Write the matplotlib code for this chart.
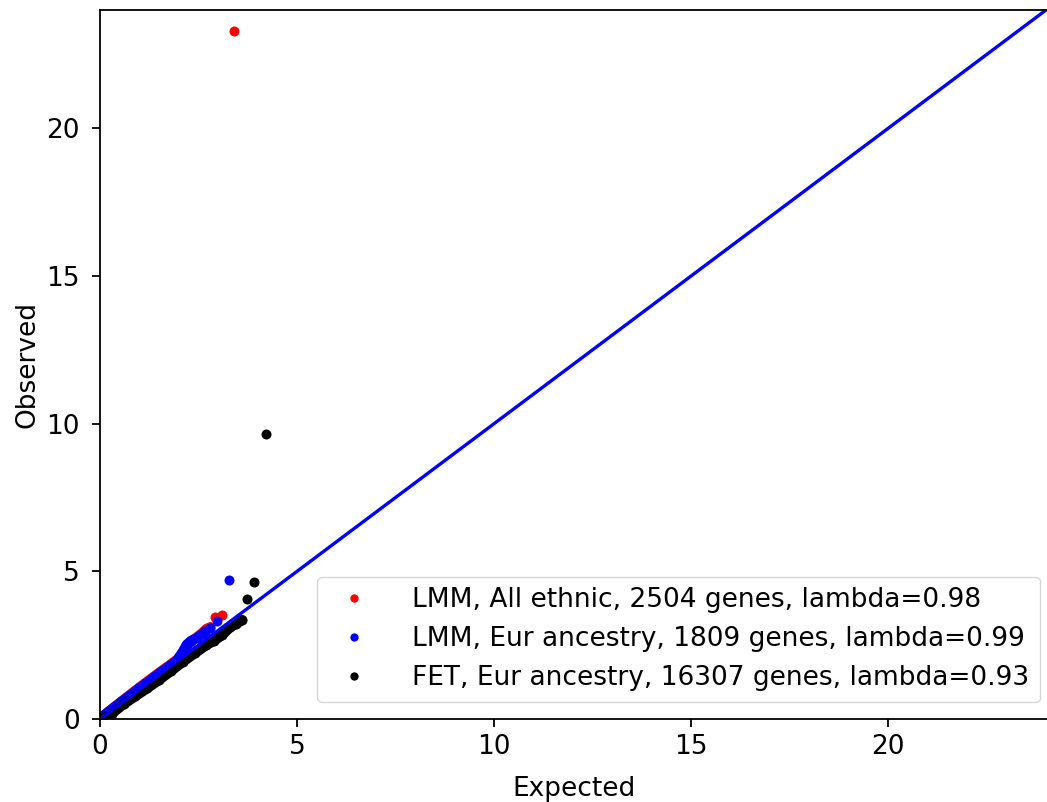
from matplotlib import pyplot as plt
from matplotlib.lines import Line2D
import numpy as np

# QQ plot of -log10 p-values, expected vs observed

# LMM, all ethnic (2504 genes)
lmm_all_exp = [0.0, 0.25, 0.5, 0.75, 1.0, 1.25, 1.5, 1.75, 2.0, 2.15, 2.3, 2.45, 2.6, 2.70, 2.80, 2.92, 3.10, 3.40]
lmm_all_obs = [0.02, 0.29, 0.55, 0.81, 1.07, 1.32, 1.57, 1.81, 2.06, 2.35, 2.62, 2.76, 2.92, 3.05, 3.11, 3.45, 3.52, 23.3]

# LMM, Eur ancestry (1809 genes)
lmm_eur_exp = [0.0, 0.25, 0.5, 0.75, 1.0, 1.25, 1.5, 1.75, 1.95, 2.1, 2.2, 2.3, 2.45, 2.6, 2.66, 2.78, 2.96, 3.26]
lmm_eur_obs = [0.02, 0.28, 0.54, 0.79, 1.04, 1.29, 1.54, 1.78, 1.98, 2.28, 2.52, 2.64, 2.74, 2.88, 2.96, 3.08, 3.32, 4.70]

# FET, Eur ancestry (16307 genes)
fet_eur_exp = [0.05, 0.3, 0.6, 0.9, 1.2, 1.5, 1.8, 2.1, 2.4, 2.7, 2.9, 3.1, 3.3, 3.45, 3.61, 3.74, 3.91, 4.21]
fet_eur_obs = [0.0, 0.18, 0.50, 0.77, 1.04, 1.32, 1.62, 1.93, 2.22, 2.50, 2.65, 2.84, 3.10, 3.22, 3.35, 4.06, 4.64, 9.64]

labels = ['LMM, All ethnic, 2504 genes, lambda=0.98',
          'LMM, Eur ancestry, 1809 genes, lambda=0.99',
          'FET, Eur ancestry, 16307 genes, lambda=0.93']
colors = ['red', 'blue', 'black']

plt.rcParams['font.size'] = 19
plt.rcParams['axes.linewidth'] = 1.3
plt.rcParams['xtick.major.size'] = 5.5
plt.rcParams['ytick.major.size'] = 5.5
plt.rcParams['xtick.major.width'] = 1.3
plt.rcParams['ytick.major.width'] = 1.3
plt.rcParams['xtick.major.pad'] = 5.5
plt.rcParams['ytick.major.pad'] = 9

fig = plt.figure(figsize=(10.47, 8.02), dpi=100)
ax = fig.add_axes([100/1047, 83/802, 948/1047, 709/802])

series = [(lmm_all_exp, lmm_all_obs),
          (lmm_eur_exp, lmm_eur_obs),
          (fet_eur_exp, fet_eur_obs)]

for (x, y), c in zip(series, colors):
    x = np.array(x)
    y = np.array(y)
    # dense bulk of points drawn as a thick band, top hits as dots
    ax.plot(x[:-3], y[:-3], '-', color=c, lw=7.2, solid_capstyle='round',
            solid_joinstyle='round')
    ax.plot(x, y, 'o', color=c, ms=7.2, mew=0)

ax.plot([0, 24], [0, 24], color='blue', lw=2.4)

ax.set_xlim(0, 24.05)
ax.set_ylim(0, 24.0)
ax.set_xticks([0, 5, 10, 15, 20])
ax.set_yticks([0, 5, 10, 15, 20])
ax.set_xlabel('Expected', labelpad=11)
ax.set_ylabel('Observed', labelpad=4)

handles = [Line2D([], [], ls='none', marker='o', ms=6, mew=0, color=c) for c in colors]
ax.legend(handles, labels, loc='lower right',
          bbox_to_anchor=(1040/1047, 100/802), bbox_transform=fig.transFigure,
          borderaxespad=0, handletextpad=1.2, borderpad=0.4, labelspacing=0.5)

plt.savefig('out.png', dpi=100)
